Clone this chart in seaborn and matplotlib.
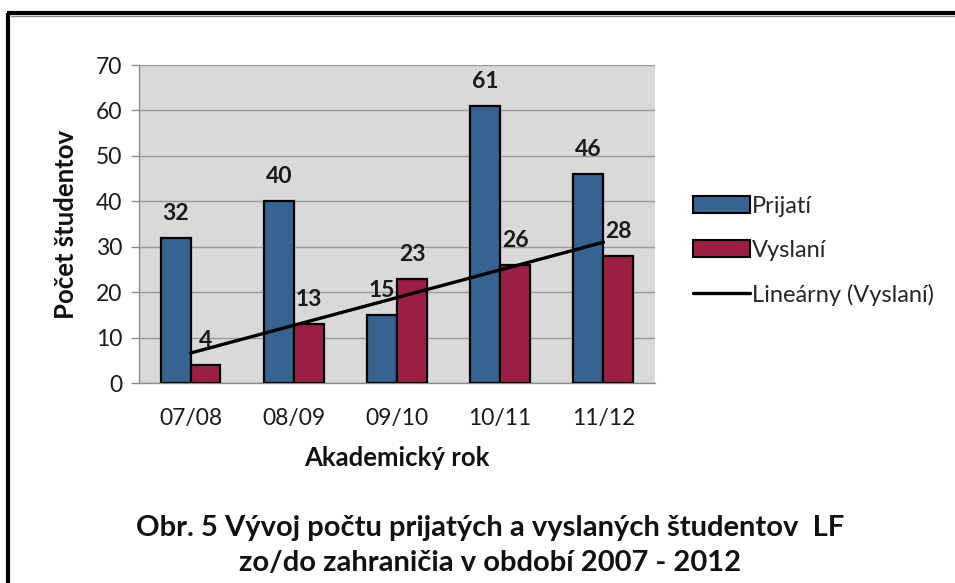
import numpy as np
import pandas as pd
import matplotlib
matplotlib.use("Agg")
import matplotlib.pyplot as plt
import seaborn as sns
from matplotlib.patches import Patch
from matplotlib.lines import Line2D

categories = ["07/08", "08/09", "09/10", "10/11", "11/12"]
prijati = [32, 40, 15, 61, 46]
vyslani = [4, 13, 23, 26, 28]
series_names = ["Prijatí", "Vyslaní"]
trend_name = "Lineárny (Vyslaní)"
y_ticks = [0, 10, 20, 30, 40, 50, 60, 70]

sns.set_theme(style="white")
FONT = ["Lato", "DejaVu Sans"]
plt.rcParams["font.family"] = FONT

blue = "#38628f"
red = "#9b1f45"

df = pd.DataFrame({
    "rok": categories * 2,
    "pocet": prijati + vyslani,
    "serie": [series_names[0]] * len(categories) + [series_names[1]] * len(categories),
})

fig = plt.figure(figsize=(9.55, 5.83), dpi=100)
ax = fig.add_axes([0.1455, 0.343, 0.5404, 0.5455])
ax.set_facecolor("#d9d9d9")

sns.barplot(data=df, x="rok", y="pocet", hue="serie", order=categories,
            hue_order=series_names, palette=[blue, red], saturation=1,
            width=0.58, gap=0, edgecolor="black", linewidth=1.6,
            legend=False, ax=ax, zorder=3)

for cont in ax.containers:
    ax.bar_label(cont, padding=10, fontsize=16.5, fontweight="bold", color="#1a1a1a")

# linear trend of Vyslaní
xs = np.arange(len(categories))
k, q = np.polyfit(xs, vyslani, 1)
ax.plot(xs, k * xs + q, color="black", lw=2.4, zorder=5)

ax.set_xlim(-0.5, len(categories) - 0.5)
ax.set_ylim(0, 70)
ax.set_yticks(y_ticks)
ax.yaxis.grid(True, color="#9a9a9a", lw=1.0, zorder=0)
ax.set_axisbelow(True)
for s in ["top", "right"]:
    ax.spines[s].set_visible(False)
for s in ["left", "bottom"]:
    ax.spines[s].set_color("#8c8c8c")
    ax.spines[s].set_linewidth(1.0)

ax.set_xticks(xs)
ax.set_xticklabels(categories)
ax.set_xticks(np.arange(-0.5, len(categories)), minor=True)
ax.tick_params(axis="x", which="major", length=0, pad=18, labelsize=16.5, labelcolor="#1a1a1a")
ax.tick_params(axis="x", which="minor", length=7, width=1.0, color="#8c8c8c", direction="out")
ax.tick_params(axis="y", length=6, width=1.0, color="#8c8c8c", direction="out",
               labelsize=16.5, labelcolor="#1a1a1a", pad=6, left=True)

ax.set_xlabel("Akademický rok", fontsize=18.5, fontweight="bold", color="#111111", labelpad=12)
ax.set_ylabel("Počet študentov", fontsize=18.5, fontweight="bold", color="#111111", labelpad=13)

handles = [
    Patch(facecolor=blue, edgecolor="black", linewidth=1.5),
    Patch(facecolor=red, edgecolor="black", linewidth=1.5),
    Line2D([0], [0], color="black", lw=2.4),
]
fig.legend(handles, series_names + [trend_name], loc="center left",
           bbox_to_anchor=(0.716, 0.57), frameon=False, fontsize=17,
           handlelength=2.4, handleheight=0.7, handletextpad=0.1, labelspacing=0.97,
           borderaxespad=0)

fig.text(0.513, 0.064, "Obr. 5 Vývoj počtu prijatých a vyslaných študentov  LF\nzo/do zahraničia v období 2007 - 2012",
         ha="center", va="center", fontsize=21, fontweight="bold", color="#111111",
         linespacing=1.4)

# outer frame (left and top edges, with light shadow)
fig.add_artist(Line2D([0.0085, 0.0085], [-0.02, 0.977], transform=fig.transFigure,
                      color="black", lw=3, solid_capstyle="butt"))
fig.add_artist(Line2D([0.0070, 1.05], [0.977, 0.977], transform=fig.transFigure,
                      color="black", lw=3, solid_capstyle="butt"))
fig.add_artist(Line2D([0.012, 1.05], [0.972, 0.972], transform=fig.transFigure,
                      color="#8a8a8a", lw=1))

fig.savefig("out.png", dpi=100, facecolor="white")
